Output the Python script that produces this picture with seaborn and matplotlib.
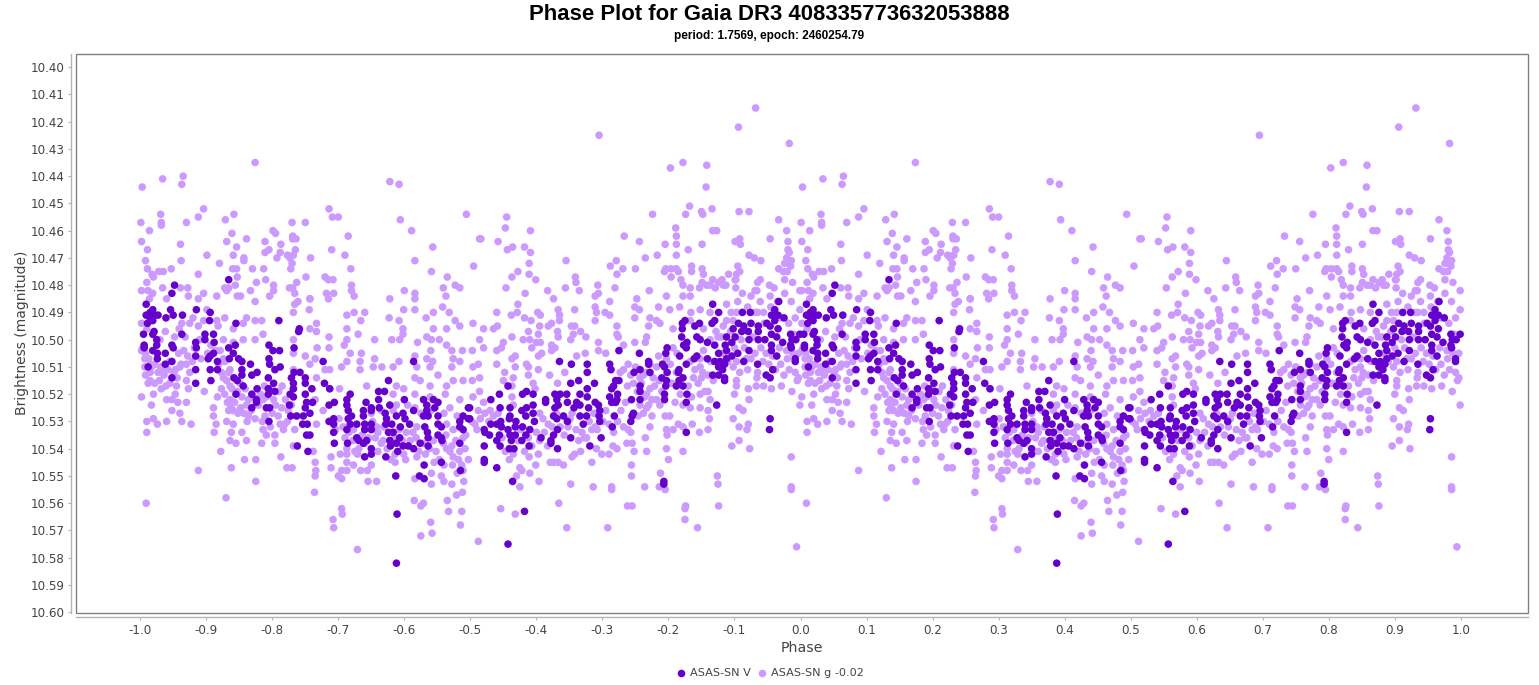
import pandas as pd
import matplotlib
matplotlib.use("Agg")
import matplotlib.pyplot as plt
import seaborn as sns

# === Data: (phase, magnitude), phase -1..0 ===
# the plot shows every observation twice, the second time at phase + 1
g_top_left = [
    (-0.997,10.444),(-0.966,10.441),(-0.935,10.440),(-0.937,10.443),(-0.826,10.435),(-0.622,10.442),(-0.608,10.443),
    (-0.999,10.457),(-0.969,10.454),(-0.968,10.457),(-0.968,10.458),(-0.986,10.460),(-0.998,10.464),(-0.939,10.465),
    (-0.989,10.467),(-0.992,10.471),(-0.938,10.471),(-0.953,10.474),(-0.989,10.474),(-0.972,10.475),(-0.965,10.475),
    (-0.982,10.476),(-0.980,10.477),(-0.990,10.479),(-0.912,10.476),(-0.966,10.481),(-0.939,10.481),(-0.928,10.481),
    (-0.998,10.482),(-0.988,10.482),(-0.981,10.483),(-0.904,10.483),(-0.927,10.484),(-0.960,10.485),(-0.986,10.485),
    (-0.912,10.485),(-0.884,10.484),(-0.930,10.457),(-0.912,10.455),(-0.904,10.452),(-0.899,10.469),(-0.880,10.472),
    (-0.871,10.456),(-0.858,10.454),(-0.861,10.461),(-0.869,10.464),(-0.854,10.466),(-0.839,10.463),(-0.859,10.469),
    (-0.843,10.470),(-0.843,10.471),(-0.860,10.474),(-0.854,10.474),(-0.830,10.474),(-0.853,10.477),(-0.824,10.479),
    (-0.856,10.480),(-0.872,10.481),(-0.866,10.481),(-0.869,10.482),(-0.833,10.482),(-0.853,10.484),(-0.848,10.484),
    (-0.826,10.486),(-0.811,10.464),(-0.799,10.460),(-0.795,10.461),(-0.787,10.465),(-0.805,10.467),(-0.811,10.468),
    (-0.788,10.468),(-0.793,10.470),(-0.813,10.474),(-0.810,10.478),(-0.798,10.480),(-0.798,10.482),(-0.804,10.484),
    (-0.770,10.457),(-0.750,10.457),(-0.769,10.462),(-0.769,10.463),(-0.764,10.463),(-0.765,10.467),(-0.777,10.469),
    (-0.768,10.469),(-0.773,10.470),(-0.742,10.470),(-0.770,10.472),(-0.772,10.474),(-0.749,10.477),(-0.763,10.479),
    (-0.774,10.481),(-0.769,10.481),(-0.766,10.483),(-0.743,10.485),(-0.761,10.486),(-0.714,10.452),(-0.709,10.455),
    (-0.700,10.455),(-0.685,10.462),(-0.710,10.467),(-0.690,10.469),(-0.681,10.474),(-0.720,10.477),(-0.715,10.478),
    (-0.708,10.478),(-0.680,10.480),(-0.680,10.482),(-0.718,10.483),(-0.707,10.483),(-0.676,10.484),(-0.715,10.485),
    (-0.606,10.456),(-0.589,10.460),(-0.557,10.466),(-0.584,10.471),(-0.559,10.475),(-0.535,10.477),(-0.495,10.473),
    (-0.506,10.454),(-0.486,10.463),(-0.523,10.480),(-0.516,10.481),(-0.541,10.481),(-0.537,10.484),(-0.600,10.482),
    (-0.584,10.483),(-0.622,10.485),(-0.584,10.485),
]
g_low_left = [
    (-0.998,10.521),(-0.983,10.524),(-0.990,10.530),(-0.990,10.534),(-0.980,10.529),(-0.974,10.531),(-0.960,10.530),
    (-0.952,10.526),(-0.940,10.527),(-0.937,10.530),(-0.923,10.531),(-0.912,10.548),(-0.991,10.560),(-0.870,10.558),
    (-0.825,10.552),(-0.862,10.547),(-0.842,10.544),(-0.825,10.544),(-0.878,10.541),(-0.888,10.534),(-0.885,10.531),
    (-0.889,10.528),(-0.889,10.525),(-0.883,10.521),(-0.903,10.519),(-0.930,10.523),(-0.943,10.523),(-0.952,10.522),
    (-0.960,10.522),(-0.968,10.518),(-0.980,10.520),(-0.988,10.516),(-0.968,10.511),(-0.985,10.512),(-0.993,10.510),
    (-0.998,10.504),(-0.993,10.507),(-0.985,10.509),(-0.947,10.511),(-0.940,10.510),(-0.930,10.509),(-0.925,10.512),
    (-0.930,10.515),(-0.927,10.518),(-0.947,10.520),(-0.937,10.494),(-0.925,10.494),(-0.912,10.495),(-0.932,10.499),
    (-0.910,10.500),(-0.899,10.489),(-0.920,10.492),(-0.904,10.493),(-0.884,10.493),(-0.872,10.492),(-0.882,10.495),
    (-0.859,10.496),(-0.844,10.494),(-0.839,10.492),(-0.826,10.493),(-0.816,10.493),(-0.814,10.498),(-0.826,10.500),
    (-0.844,10.500),(-0.874,10.500),(-0.859,10.501),(-0.879,10.504),(-0.874,10.507),(-0.864,10.511),(-0.874,10.514),
    (-0.864,10.517),(-0.877,10.518),(-0.864,10.522),(-0.866,10.526),(-0.859,10.526),(-0.869,10.530),(-0.859,10.531),
    (-0.862,10.534),(-0.846,10.534),(-0.839,10.537),(-0.864,10.537),(-0.855,10.538),(-0.816,10.538),(-0.796,10.538),
    (-0.809,10.535),(-0.814,10.533),(-0.796,10.535),(-0.783,10.533),(-0.781,10.531),(-0.791,10.528),(-0.811,10.528),
    (-0.826,10.529),(-0.836,10.528),(-0.839,10.524),(-0.814,10.522),(-0.798,10.522),(-0.786,10.525),(-0.768,10.518),
    (-0.768,10.511),(-0.768,10.505),(-0.768,10.500),(-0.768,10.490),(-0.766,10.487),(-0.743,10.485),(-0.744,10.489),
    (-0.733,10.494),(-0.743,10.496),(-0.733,10.497),(-0.714,10.499),(-0.732,10.503),(-0.714,10.503),(-0.750,10.506),
    (-0.735,10.507),(-0.743,10.509),(-0.713,10.511),(-0.720,10.511),(-0.733,10.514),(-0.713,10.518),(-0.735,10.522),
    (-0.723,10.526),(-0.733,10.531),(-0.766,10.533),(-0.768,10.539),(-0.738,10.541),(-0.787,10.543),(-0.778,10.547),
    (-0.770,10.547),(-0.735,10.545),(-0.734,10.548),(-0.735,10.550),(-0.736,10.556),(-0.711,10.543),(-0.711,10.547),
    (-0.700,10.550),(-0.695,10.551),(-0.697,10.542),(-0.687,10.545),(-0.695,10.548),(-0.687,10.548),(-0.687,10.542),
    (-0.677,10.546),(-0.671,10.542),(-0.666,10.548),(-0.656,10.548),(-0.650,10.546),(-0.655,10.552),(-0.642,10.552),
    (-0.614,10.542),(-0.614,10.545),(-0.584,10.551),(-0.559,10.549),(-0.559,10.553),(-0.544,10.550),(-0.540,10.552),
    (-0.528,10.553),(-0.510,10.552),(-0.511,10.548),(-0.695,10.562),(-0.694,10.564),(-0.708,10.566),(-0.707,10.569),
    (-0.671,10.577),(-0.585,10.559),(-0.571,10.560),(-0.575,10.561),(-0.535,10.559),(-0.521,10.557),(-0.512,10.556),
    (-0.533,10.563),(-0.513,10.563),(-0.560,10.567),(-0.558,10.571),(-0.575,10.572),(-0.515,10.568),
    (-0.687,10.491),(-0.676,10.490),(-0.660,10.490),(-0.666,10.493),(-0.687,10.496),(-0.670,10.498),(-0.687,10.500),
    (-0.691,10.502),(-0.645,10.500),(-0.682,10.505),(-0.665,10.505),(-0.645,10.507),(-0.687,10.508),(-0.667,10.508),
    (-0.634,10.510),(-0.647,10.510),(-0.695,10.510),(-0.667,10.511),(-0.617,10.510),(-0.608,10.508),(-0.619,10.500),
    (-0.607,10.500),(-0.608,10.493),(-0.602,10.496),(-0.602,10.498),(-0.623,10.492),(-0.601,10.489),(-0.584,10.489),
    (-0.567,10.492),(-0.556,10.490),(-0.532,10.490),(-0.542,10.488),(-0.556,10.496),(-0.536,10.496),(-0.523,10.493),
    (-0.516,10.495),(-0.580,10.501),(-0.566,10.499),(-0.559,10.500),(-0.547,10.500),(-0.536,10.502),(-0.560,10.504),
    (-0.528,10.504),(-0.512,10.504),(-0.584,10.506),(-0.566,10.507),(-0.557,10.508),(-0.581,10.510),(-0.561,10.510),
    (-0.526,10.507),(-0.516,10.508),(-0.528,10.510),(-0.549,10.513),(-0.584,10.514),(-0.576,10.515),(-0.561,10.517),
    (-0.536,10.517),(-0.526,10.515),(-0.511,10.515),(-0.612,10.517),(-0.601,10.518),(-0.657,10.517),(-0.698,10.518),
    (-0.584,10.520),(-0.561,10.521),(-0.538,10.520),(-0.516,10.522),(-0.531,10.525),(-0.584,10.525),(-0.617,10.520),
    (-0.617,10.526),(-0.642,10.532),(-0.581,10.532),(-0.526,10.533),(-0.536,10.531),(-0.511,10.536),(-0.528,10.539),
    (-0.516,10.541),(-0.526,10.543),(-0.536,10.540),(-0.508,10.540),(-0.581,10.543),(-0.601,10.542),(-0.632,10.537),
    (-0.617,10.534),(-0.640,10.534),(-0.677,10.533),(-0.687,10.540),
]
g_top_right = [
    (-0.305,10.425),(-0.068,10.415),(-0.094,10.422),(-0.017,10.428),(-0.197,10.437),(-0.178,10.435),(-0.142,10.436),
    (-0.143,10.444),(-0.168,10.451),(-0.150,10.453),(-0.148,10.454),(-0.134,10.452),(-0.093,10.453),(-0.078,10.453),
    (-0.224,10.454),(-0.174,10.454),(-0.033,10.456),(-0.189,10.459),(-0.188,10.462),(-0.133,10.460),(-0.127,10.460),
    (-0.021,10.460),(-0.445,10.455),(-0.447,10.459),(-0.409,10.460),(-0.484,10.463),(-0.458,10.464),(-0.436,10.466),
    (-0.444,10.467),(-0.418,10.466),(-0.409,10.468),(-0.411,10.472),(-0.428,10.475),(-0.437,10.477),(-0.411,10.476),
    (-0.401,10.478),(-0.446,10.481),(-0.355,10.471),(-0.341,10.477),(-0.340,10.479),(-0.356,10.481),(-0.383,10.482),
    (-0.335,10.482),(-0.307,10.480),(-0.281,10.481),(-0.267,10.462),(-0.244,10.464),(-0.205,10.465),(-0.188,10.465),
    (-0.149,10.465),(-0.099,10.464),(-0.092,10.463),(-0.091,10.465),(-0.046,10.463),(-0.019,10.464),(-0.235,10.470),
    (-0.217,10.469),(-0.170,10.467),(-0.188,10.469),(-0.279,10.471),(-0.288,10.473),(-0.269,10.474),(-0.278,10.476),
    (-0.250,10.474),(-0.204,10.474),(-0.196,10.474),(-0.188,10.474),(-0.206,10.475),(-0.185,10.475),(-0.165,10.473),
    (-0.165,10.475),(-0.149,10.474),(-0.147,10.476),(-0.196,10.477),(-0.181,10.478),(-0.178,10.480),(-0.133,10.478),
    (-0.149,10.479),(-0.142,10.480),(-0.167,10.481),(-0.153,10.481),(-0.229,10.482),(-0.078,10.469),(-0.070,10.470),
    (-0.060,10.471),(-0.095,10.473),(-0.092,10.475),(-0.097,10.476),(-0.109,10.476),(-0.098,10.478),(-0.119,10.478),
    (-0.124,10.479),(-0.113,10.480),(-0.129,10.481),(-0.098,10.481),(-0.061,10.478),(-0.065,10.479),(-0.047,10.480),
    (-0.040,10.481),(-0.069,10.482),(-0.024,10.478),(-0.012,10.479),(-0.019,10.467),(-0.017,10.468),(-0.021,10.470),
    (-0.024,10.472),(-0.014,10.471),(-0.033,10.474),(-0.026,10.475),(-0.020,10.475),(-0.015,10.473),
]
g_low_right = [
    (-0.417,10.483),(-0.311,10.484),(-0.306,10.483),(-0.374,10.485),(-0.289,10.486),(-0.248,10.485),(-0.203,10.484),
    (-0.215,10.488),(-0.198,10.489),(-0.251,10.488),(-0.244,10.489),(-0.183,10.488),(-0.167,10.484),(-0.178,10.484),
    (-0.152,10.489),(-0.166,10.490),(-0.428,10.487),(-0.460,10.490),(-0.438,10.491),(-0.429,10.490),(-0.398,10.490),
    (-0.394,10.491),(-0.418,10.492),(-0.408,10.493),(-0.367,10.489),(-0.365,10.491),(-0.365,10.493),(-0.342,10.489),
    (-0.311,10.488),(-0.309,10.490),(-0.296,10.490),(-0.289,10.491),(-0.311,10.493),(-0.251,10.492),(-0.228,10.492),
    (-0.218,10.493),(-0.213,10.494),(-0.230,10.495),(-0.278,10.495),(-0.496,10.494),(-0.480,10.496),(-0.465,10.496),
    (-0.459,10.495),(-0.395,10.495),(-0.377,10.494),(-0.382,10.495),(-0.412,10.497),(-0.397,10.498),(-0.368,10.497),
    (-0.347,10.495),(-0.342,10.495),(-0.333,10.497),(-0.344,10.498),(-0.367,10.499),(-0.348,10.500),(-0.325,10.499),
    (-0.278,10.498),(-0.276,10.499),(-0.306,10.501),(-0.268,10.502),(-0.251,10.501),(-0.235,10.501),(-0.233,10.499),
    (-0.193,10.496),(-0.486,10.500),(-0.480,10.503),(-0.450,10.501),(-0.437,10.499),(-0.453,10.503),(-0.460,10.504),
    (-0.497,10.504),(-0.420,10.500),(-0.410,10.500),(-0.400,10.501),(-0.394,10.501),(-0.407,10.503),(-0.377,10.502),
    (-0.377,10.504),(-0.372,10.503),(-0.326,10.505),(-0.339,10.506),(-0.306,10.504),(-0.295,10.505),(-0.392,10.505),
    (-0.397,10.506),(-0.432,10.506),(-0.437,10.507),(-0.460,10.509),(-0.488,10.509),(-0.496,10.510),(-0.415,10.509),
    (-0.412,10.510),(-0.432,10.510),(-0.448,10.512),(-0.397,10.511),(-0.380,10.513),(-0.357,10.512),(-0.435,10.514),
    (-0.486,10.514),(-0.497,10.515),(-0.450,10.515),(-0.412,10.513),(-0.405,10.516),(-0.402,10.518),(-0.368,10.516),
    (-0.437,10.517),(-0.486,10.519),(-0.496,10.521),(-0.437,10.521),(-0.480,10.523),(-0.488,10.526),(-0.493,10.531),
    (-0.470,10.526),(-0.435,10.524),(-0.395,10.527),(-0.390,10.529),(-0.382,10.531),(-0.349,10.529),(-0.331,10.534),
    (-0.311,10.532),(-0.316,10.533),(-0.324,10.536),(-0.268,10.532),(-0.261,10.533),(-0.257,10.534),(-0.263,10.538),
    (-0.255,10.538),(-0.284,10.539),(-0.278,10.540),(-0.290,10.542),(-0.301,10.542),(-0.309,10.540),(-0.333,10.541),
    (-0.342,10.542),(-0.346,10.543),(-0.316,10.545),(-0.379,10.545),(-0.374,10.545),(-0.367,10.545),(-0.359,10.546),
    (-0.401,10.546),(-0.397,10.542),(-0.411,10.543),(-0.425,10.547),(-0.422,10.548),(-0.410,10.549),(-0.430,10.550),
    (-0.396,10.552),(-0.425,10.554),(-0.348,10.553),(-0.314,10.554),(-0.286,10.554),(-0.286,10.555),(-0.454,10.562),
    (-0.432,10.564),(-0.366,10.560),(-0.354,10.569),(-0.292,10.569),(-0.488,10.574),(-0.262,10.561),(-0.255,10.561),
    (-0.256,10.546),(-0.256,10.550),(-0.252,10.541),(-0.235,10.536),(-0.233,10.541),(-0.236,10.554),(-0.228,10.532),
    (-0.212,10.549),(-0.214,10.554),(-0.205,10.555),(-0.203,10.540),(-0.200,10.544),(-0.203,10.533),(-0.202,10.535),
    (-0.193,10.533),(-0.178,10.541),(-0.174,10.561),(-0.175,10.562),(-0.175,10.566),(-0.156,10.569),(-0.185,10.531),
    (-0.178,10.532),(-0.164,10.531),(-0.153,10.534),(-0.140,10.533),(-0.138,10.529),(-0.126,10.550),(-0.125,10.553),
    (-0.124,10.561),(-0.104,10.539),(-0.093,10.537),(-0.077,10.540),(-0.093,10.532),(-0.079,10.531),(-0.081,10.533),
    (-0.102,10.529),(-0.093,10.525),(-0.087,10.526),(-0.014,10.543),(-0.014,10.554),(-0.014,10.555),(-0.006,10.576),
    (-0.268,10.511),(-0.273,10.512),(-0.261,10.509),(-0.253,10.516),(-0.243,10.514),(-0.233,10.512),(-0.223,10.514),
    (-0.241,10.516),(-0.228,10.518),(-0.233,10.520),(-0.225,10.522),(-0.243,10.524),(-0.233,10.525),(-0.238,10.527),
    (-0.225,10.528),(-0.246,10.528),(-0.213,10.524),(-0.205,10.528),(-0.198,10.528),(-0.190,10.523),(-0.167,10.525),
    (-0.152,10.525),(-0.140,10.526),(-0.152,10.520),(-0.140,10.519),(-0.137,10.522),(-0.162,10.514),(-0.150,10.514),
    (-0.152,10.510),(-0.132,10.515),(-0.097,10.515),(-0.097,10.517),(-0.100,10.520),(-0.079,10.518),(-0.067,10.517),
    (-0.056,10.517),(-0.044,10.518),(-0.029,10.517),(-0.013,10.519),(-0.066,10.514),(-0.102,10.510),(-0.082,10.507),
    (-0.021,10.504),(-0.003,10.505),(-0.003,10.514),(-0.001,10.524),(-0.078,10.522),(-0.137,10.480),(-0.117,10.480),
    (-0.099,10.478),(-0.112,10.487),(-0.097,10.490),(-0.102,10.493),(-0.117,10.495),(-0.069,10.490),(-0.061,10.486),
    (-0.046,10.484),(-0.024,10.483),(-0.001,10.482),(-0.014,10.486),(-0.001,10.489),(-0.056,10.490),(-0.066,10.482),
    (-0.137,10.490),(-0.147,10.496),(-0.167,10.493),(-0.125,10.499),(-0.137,10.500),(-0.147,10.504),(-0.152,10.507),
    (-0.167,10.508),(-0.187,10.505),(-0.193,10.503),(-0.203,10.507),(-0.215,10.506),(-0.218,10.510),
]
# the thick part of the g band, where the dots overlap
g_band = [
    (-0.996,10.503),(-0.992,10.505),(-0.987,10.507),(-0.983,10.510),(-0.978,10.509),(-0.973,10.512),(-0.969,10.510),
    (-0.964,10.513),(-0.958,10.511),(-0.955,10.508),(-0.949,10.512),(-0.944,10.514),(-0.938,10.509),(-0.992,10.513),
    (-0.985,10.515),(-0.978,10.516),(-0.971,10.515),(-0.961,10.517),(-0.955,10.516),(-0.945,10.517),(-0.942,10.505),
    (-0.934,10.504),(-0.928,10.506),(-0.921,10.508),(-0.918,10.503),(-0.908,10.507),(-0.970,10.500),(-0.962,10.497),
    (-0.948,10.499),(-0.941,10.496),(-0.990,10.496),(-0.998,10.494),
    (-0.898,10.505),(-0.893,10.502),(-0.886,10.504),(-0.881,10.509),(-0.877,10.512),(-0.872,10.508),(-0.869,10.515),
    (-0.866,10.512),(-0.861,10.518),(-0.858,10.514),(-0.853,10.519),(-0.849,10.516),(-0.846,10.521),(-0.841,10.518),
    (-0.836,10.522),(-0.872,10.520),(-0.868,10.523),(-0.863,10.525),(-0.857,10.523),(-0.852,10.527),(-0.848,10.525),
    (-0.843,10.527),(-0.838,10.530),(-0.832,10.526),(-0.829,10.521),(-0.821,10.524),(-0.818,10.520),(-0.812,10.517),
    (-0.809,10.521),(-0.803,10.518),(-0.800,10.527),(-0.795,10.524),(-0.790,10.519),(-0.785,10.517),(-0.780,10.522),
    (-0.776,10.526),(-0.771,10.524),(-0.777,10.530),(-0.788,10.531),(-0.803,10.532),(-0.815,10.530),
    (-0.704,10.533),(-0.699,10.529),(-0.693,10.532),(-0.690,10.536),(-0.684,10.534),(-0.678,10.537),(-0.675,10.541),
    (-0.669,10.540),(-0.664,10.535),(-0.660,10.538),(-0.654,10.536),(-0.648,10.530),(-0.644,10.536),(-0.640,10.541),
    (-0.635,10.538),(-0.631,10.532),(-0.626,10.540),(-0.620,10.544),(-0.615,10.536),(-0.608,10.533),(-0.603,10.537),
    (-0.597,10.534),(-0.591,10.537),(-0.587,10.534),(-0.582,10.536),(-0.578,10.541),(-0.572,10.538),(-0.568,10.542),
    (-0.562,10.540),(-0.556,10.537),(-0.552,10.541),(-0.547,10.544),(-0.541,10.538),(-0.537,10.535),(-0.531,10.541),
    (-0.527,10.546),(-0.522,10.537),(-0.518,10.544),(-0.513,10.546),(-0.507,10.535),(-0.503,10.544),(-0.520,10.549),
    (-0.540,10.546),(-0.555,10.545),(-0.598,10.544),(-0.650,10.527),(-0.635,10.526),(-0.612,10.524),(-0.595,10.524),
    (-0.575,10.527),(-0.560,10.526),(-0.540,10.527),(-0.520,10.528),
    (-0.498,10.530),(-0.490,10.533),(-0.485,10.529),(-0.478,10.527),(-0.472,10.530),(-0.465,10.528),(-0.458,10.527),
    (-0.452,10.536),(-0.447,10.541),(-0.441,10.544),(-0.435,10.542),(-0.428,10.537),(-0.424,10.533),(-0.418,10.541),
    (-0.412,10.536),(-0.407,10.539),(-0.400,10.534),(-0.395,10.537),(-0.388,10.534),(-0.383,10.539),(-0.376,10.532),
    (-0.370,10.527),(-0.364,10.532),(-0.358,10.535),(-0.352,10.532),(-0.346,10.527),(-0.340,10.533),(-0.336,10.537),
    (-0.327,10.536),(-0.320,10.530),(-0.313,10.527),(-0.308,10.533),(-0.299,10.530),(-0.295,10.526),(-0.290,10.531),
    (-0.283,10.534),(-0.277,10.530),(-0.272,10.526),(-0.265,10.523),
    (-0.262,10.517),(-0.257,10.513),(-0.250,10.510),(-0.247,10.519),(-0.238,10.513),(-0.236,10.521),(-0.230,10.524),
    (-0.228,10.509),(-0.221,10.517),(-0.218,10.522),(-0.214,10.515),(-0.210,10.519),(-0.195,10.516),(-0.197,10.509),
    (-0.188,10.512),(-0.182,10.520),(-0.178,10.524),(-0.170,10.517),(-0.165,10.521),(-0.160,10.511),(-0.155,10.516),
    (-0.148,10.512),(-0.145,10.519),(-0.140,10.513),(-0.136,10.508),
    (-0.128,10.497),(-0.120,10.499),(-0.117,10.505),(-0.110,10.508),(-0.106,10.497),(-0.100,10.503),(-0.097,10.508),
    (-0.092,10.512),(-0.090,10.500),(-0.085,10.503),(-0.080,10.511),(-0.075,10.507),(-0.072,10.499),(-0.069,10.505),
    (-0.065,10.512),(-0.060,10.503),(-0.057,10.508),(-0.052,10.505),(-0.048,10.509),(-0.042,10.506),(-0.038,10.511),
    (-0.032,10.503),(-0.030,10.509),(-0.025,10.513),(-0.020,10.507),(-0.017,10.511),(-0.012,10.505),(-0.008,10.512),
    (-0.005,10.515),(-0.010,10.498),(-0.018,10.494),(-0.030,10.492),(-0.045,10.488),(-0.055,10.494),(-0.065,10.490),
    (-0.080,10.488),(-0.095,10.486),(-0.105,10.490),(-0.112,10.493),(-0.088,10.483),(-0.075,10.484),(-0.035,10.486),
    (-0.008,10.492),
]
v_left = [
    (-0.948,10.480),(-0.952,10.483),(-0.991,10.487),(-0.981,10.489),(-0.985,10.490),(-0.991,10.491),(-0.978,10.491),
    (-0.973,10.491),(-0.985,10.492),(-0.989,10.494),(-0.981,10.493),(-0.954,10.489),(-0.950,10.491),(-0.961,10.492),
    (-0.936,10.491),(-0.915,10.489),(-0.894,10.490),(-0.895,10.493),(-0.855,10.494),(-0.790,10.493),(-0.759,10.496),
    (-0.760,10.497),(-0.866,10.478),(-0.995,10.498),(-0.979,10.497),(-0.981,10.498),(-0.975,10.500),(-0.937,10.498),
    (-0.902,10.498),(-0.889,10.498),(-0.902,10.500),(-0.888,10.501),(-0.916,10.501),(-0.994,10.502),(-0.994,10.503),
    (-0.975,10.502),(-0.952,10.502),(-0.950,10.503),(-0.981,10.504),(-0.974,10.505),(-0.962,10.505),(-0.974,10.507),
    (-0.952,10.508),(-0.962,10.509),(-0.988,10.510),(-0.915,10.503),(-0.916,10.506),(-0.889,10.505),(-0.894,10.506),
    (-0.897,10.507),(-0.883,10.508),(-0.883,10.511),(-0.894,10.511),(-0.916,10.511),(-0.952,10.514),(-0.893,10.515),
    (-0.916,10.516),(-0.866,10.503),(-0.856,10.502),(-0.859,10.505),(-0.865,10.507),(-0.851,10.507),(-0.846,10.508),
    (-0.846,10.511),(-0.846,10.513),(-0.858,10.514),(-0.853,10.515),(-0.844,10.517),(-0.855,10.520),(-0.833,10.509),
    (-0.823,10.512),(-0.831,10.513),(-0.805,10.502),(-0.799,10.504),(-0.789,10.504),(-0.767,10.503),(-0.805,10.507),
    (-0.804,10.509),(-0.788,10.510),(-0.796,10.511),(-0.806,10.514),(-0.798,10.516),(-0.806,10.518),(-0.823,10.518),
    (-0.796,10.519),(-0.806,10.520),(-0.831,10.520),(-0.824,10.522),(-0.824,10.523),(-0.831,10.525),(-0.809,10.525),
    (-0.804,10.525),(-0.805,10.530),(-0.767,10.512),(-0.758,10.512),(-0.771,10.514),(-0.750,10.514),(-0.768,10.516),
    (-0.768,10.518),(-0.773,10.520),(-0.768,10.521),(-0.750,10.516),(-0.750,10.520),(-0.740,10.518),(-0.723,10.508),
    (-0.721,10.516),(-0.713,10.518),(-0.774,10.524),(-0.748,10.523),(-0.739,10.523),(-0.750,10.525),(-0.743,10.527),
    (-0.772,10.528),(-0.763,10.528),(-0.753,10.528),(-0.754,10.531),(-0.747,10.531),(-0.748,10.535),(-0.743,10.535),
    (-0.762,10.539),(-0.746,10.541),(-0.714,10.524),(-0.706,10.523),(-0.714,10.530),(-0.707,10.529),(-0.707,10.531),
    (-0.707,10.534),(-0.706,10.538),(-0.686,10.538),(-0.682,10.520),(-0.687,10.522),(-0.687,10.524),(-0.685,10.526),
    (-0.685,10.529),(-0.680,10.528),(-0.687,10.533),(-0.682,10.531),(-0.672,10.531),(-0.662,10.526),(-0.662,10.528),
    (-0.658,10.523),(-0.660,10.531),(-0.660,10.533),(-0.650,10.525),(-0.650,10.526),(-0.650,10.531),(-0.650,10.533),
    (-0.639,10.519),(-0.630,10.519),(-0.639,10.522),(-0.638,10.525),(-0.624,10.515),(-0.672,10.536),(-0.669,10.537),
    (-0.662,10.538),(-0.657,10.537),(-0.650,10.540),(-0.650,10.542),(-0.660,10.543),(-0.628,10.543),(-0.622,10.524),
    (-0.629,10.527),(-0.627,10.529),(-0.628,10.531),(-0.619,10.531),(-0.624,10.534),(-0.617,10.534),(-0.607,10.536),
    (-0.622,10.537),(-0.621,10.539),(-0.612,10.538),(-0.610,10.541),(-0.602,10.539),(-0.594,10.539),(-0.586,10.540),
    (-0.576,10.538),(-0.564,10.539),(-0.612,10.528),(-0.602,10.527),(-0.606,10.532),(-0.599,10.529),(-0.592,10.531),
    (-0.600,10.522),(-0.586,10.526),(-0.571,10.522),(-0.566,10.524),(-0.566,10.526),(-0.571,10.528),(-0.564,10.528),
    (-0.569,10.532),(-0.565,10.534),(-0.564,10.536),(-0.556,10.522),(-0.549,10.523),(-0.554,10.525),(-0.549,10.528),
    (-0.549,10.531),(-0.544,10.532),(-0.549,10.535),(-0.544,10.536),(-0.543,10.537),(-0.516,10.538),(-0.544,10.545),
    (-0.515,10.548),(-0.570,10.546),(-0.577,10.550),(-0.570,10.551),(-0.613,10.550),(-0.611,10.564),(-0.612,10.582),
    (-0.586,10.508),(-0.503,10.525),(-0.511,10.528),(-0.516,10.530),(-0.516,10.532),(-0.511,10.533),(-0.503,10.529),
]
v_right = [
    (-0.501,10.525),(-0.501,10.529),(-0.479,10.533),(-0.478,10.534),(-0.471,10.535),(-0.469,10.531),(-0.460,10.531),
    (-0.454,10.530),(-0.453,10.532),(-0.469,10.522),(-0.455,10.525),(-0.456,10.520),(-0.443,10.517),(-0.440,10.525),
    (-0.440,10.528),(-0.441,10.529),(-0.431,10.530),(-0.443,10.533),(-0.432,10.532),(-0.440,10.535),(-0.432,10.535),
    (-0.456,10.535),(-0.460,10.537),(-0.455,10.539),(-0.479,10.539),(-0.438,10.537),(-0.441,10.540),(-0.434,10.540),
    (-0.479,10.544),(-0.479,10.545),(-0.460,10.547),(-0.436,10.552),(-0.418,10.563),(-0.443,10.575),(-0.421,10.520),
    (-0.415,10.519),(-0.405,10.520),(-0.422,10.526),(-0.415,10.525),(-0.405,10.524),(-0.405,10.527),(-0.416,10.528),
    (-0.403,10.530),(-0.421,10.532),(-0.410,10.533),(-0.416,10.535),(-0.422,10.537),(-0.411,10.539),(-0.393,10.536),
    (-0.386,10.522),(-0.386,10.523),(-0.372,10.520),(-0.364,10.520),(-0.354,10.520),(-0.369,10.522),(-0.353,10.523),
    (-0.367,10.524),(-0.372,10.525),(-0.374,10.528),(-0.369,10.529),(-0.359,10.528),(-0.353,10.530),(-0.368,10.533),
    (-0.374,10.535),(-0.378,10.537),(-0.378,10.538),(-0.368,10.540),(-0.348,10.536),(-0.365,10.508),(-0.347,10.509),
    (-0.323,10.509),(-0.323,10.512),(-0.336,10.515),(-0.348,10.516),(-0.312,10.516),(-0.323,10.518),(-0.334,10.520),
    (-0.323,10.521),(-0.339,10.523),(-0.343,10.525),(-0.334,10.524),(-0.321,10.525),(-0.311,10.523),(-0.306,10.524),
    (-0.304,10.526),(-0.334,10.528),(-0.324,10.528),(-0.305,10.528),(-0.304,10.530),(-0.329,10.531),(-0.302,10.536),
    (-0.319,10.539),(-0.282,10.528),(-0.285,10.532),(-0.275,10.504),(-0.244,10.505),(-0.289,10.509),(-0.287,10.511),
    (-0.280,10.515),(-0.275,10.515),(-0.283,10.517),(-0.286,10.518),(-0.277,10.520),(-0.289,10.521),(-0.278,10.522),
    (-0.286,10.523),(-0.280,10.523),(-0.252,10.512),(-0.243,10.511),(-0.256,10.522),(-0.243,10.517),(-0.243,10.519),
    (-0.243,10.522),(-0.253,10.527),(-0.255,10.528),(-0.257,10.530),(-0.230,10.508),(-0.230,10.509),(-0.228,10.512),
    (-0.202,10.503),(-0.204,10.505),(-0.209,10.509),(-0.206,10.510),(-0.202,10.512),(-0.210,10.514),(-0.203,10.515),
    (-0.204,10.517),(-0.206,10.520),(-0.206,10.522),(-0.207,10.552),(-0.207,10.553),(-0.183,10.506),(-0.173,10.509),
    (-0.184,10.511),(-0.185,10.512),(-0.178,10.514),(-0.184,10.515),(-0.188,10.517),(-0.178,10.517),(-0.172,10.520),
    (-0.173,10.523),(-0.173,10.534),(-0.127,10.524),(-0.175,10.493),(-0.179,10.494),(-0.179,10.496),(-0.180,10.499),
    (-0.172,10.501),(-0.177,10.502),(-0.173,10.503),(-0.160,10.495),(-0.153,10.494),(-0.157,10.499),(-0.152,10.500),
    (-0.141,10.501),(-0.130,10.502),(-0.157,10.506),(-0.161,10.507),(-0.141,10.507),(-0.133,10.487),(-0.124,10.490),
    (-0.130,10.493),(-0.134,10.494),(-0.088,10.490),(-0.076,10.490),(-0.033,10.486),(-0.094,10.494),(-0.086,10.495),
    (-0.075,10.494),(-0.102,10.496),(-0.089,10.497),(-0.079,10.497),(-0.112,10.499),(-0.099,10.499),(-0.104,10.501),
    (-0.114,10.502),(-0.112,10.504),(-0.124,10.505),(-0.095,10.505),(-0.104,10.506),(-0.112,10.507),(-0.130,10.508),
    (-0.122,10.508),(-0.115,10.509),(-0.124,10.510),(-0.118,10.511),(-0.133,10.513),(-0.124,10.513),(-0.115,10.514),
    (-0.115,10.515),(-0.078,10.500),(-0.078,10.504),(-0.086,10.508),(-0.065,10.509),(-0.046,10.529),(-0.047,10.533),
    (-0.064,10.495),(-0.064,10.497),(-0.064,10.500),(-0.051,10.494),(-0.046,10.495),(-0.054,10.500),(-0.044,10.498),
    (-0.039,10.489),(-0.044,10.491),(-0.034,10.491),(-0.025,10.492),(-0.039,10.493),(-0.034,10.496),(-0.036,10.499),
    (-0.027,10.501),(-0.044,10.502),(-0.044,10.504),(-0.036,10.506),(-0.015,10.498),(-0.013,10.500),(-0.007,10.500),
    (-0.015,10.502),(-0.014,10.503),(-0.008,10.507),(-0.008,10.508),(-0.001,10.498),(-0.042,10.511),(-0.052,10.513),
    (-0.046,10.514),
]

x_ticks = [-1.0, -0.9, -0.8, -0.7, -0.6, -0.5, -0.4, -0.3, -0.2, -0.1, 0.0, 0.1, 0.2, 0.3, 0.4, 0.5, 0.6, 0.7, 0.8, 0.9, 1.0]
y_ticks = [10.40, 10.41, 10.42, 10.43, 10.44, 10.45, 10.46, 10.47, 10.48, 10.49, 10.50,
           10.51, 10.52, 10.53, 10.54, 10.55, 10.56, 10.57, 10.58, 10.59, 10.60]

V_NAME = "ASAS-SN V"
G_NAME = "ASAS-SN g -0.02"
TEXT_COLOR = "#444444"
AXIS_COLOR = "#b4b4b4"


def folded(points, name):
    # each observation at its phase and again one cycle later
    df = pd.DataFrame(points, columns=["phase", "mag"])
    df2 = df.copy()
    df2["phase"] = df2["phase"] + 1
    out = pd.concat([df, df2], ignore_index=True)
    out["band"] = name
    return out


# g goes first so that V is drawn on top
df = pd.concat([
    folded(g_top_left + g_low_left + g_top_right + g_low_right + g_band, G_NAME),
    folded(v_left + v_right, V_NAME),
], ignore_index=True)

# === Style Configuration ===
sns.set_theme(style="white")
plt.rcParams["font.family"] = ["DejaVu Sans"]

W, H = 1539, 685
fig = plt.figure(figsize=(W / 100, H / 100), dpi=100)
ax = fig.add_axes([75.5 / W, 1 - 612.5 / H, 1452 / W, 559 / H])

sns.scatterplot(
    data=df, x="phase", y="mag", hue="band",
    hue_order=[V_NAME, G_NAME],
    palette={V_NAME: "#6600cc", G_NAME: "#cc99ff"},
    s=30, linewidth=0, ax=ax, clip_on=True,
)

ax.set_xlim(-1.098, 1.101)
ax.set_ylim(10.6001, 10.395)
ax.set_xticks(x_ticks)
ax.set_xticklabels([f"{t:.1f}" for t in x_ticks])
ax.set_yticks(y_ticks)
ax.set_yticklabels([f"{t:.2f}" for t in y_ticks])

# frame around the data plus detached axis lines, like the original
ax.patch.set_edgecolor("#808080")
ax.patch.set_linewidth(1.0)
ax.patch.set_facecolor("white")
ax.spines["top"].set_visible(False)
ax.spines["right"].set_visible(False)
for side in ["left", "bottom"]:
    ax.spines[side].set_position(("outward", 3))
    ax.spines[side].set_color(AXIS_COLOR)
    ax.spines[side].set_linewidth(1.0)
ax.tick_params(axis="both", length=2.5, width=0.8, color=AXIS_COLOR,
               labelcolor=TEXT_COLOR, labelsize=8.6, left=True, bottom=True, pad=2.5)

ax.set_xlabel("Phase", fontsize=10.2, color=TEXT_COLOR, labelpad=3)
ax.set_ylabel("Brightness (magnitude)", fontsize=10, color=TEXT_COLOR, labelpad=1)

# === Titles ===
fig.text(769 / W, 1 - 14 / H, "Phase Plot for Gaia DR3 408335773632053888", ha="center", va="center",
         fontsize=15.9, fontweight="bold", family="Liberation Sans", color="black")
fig.text(769 / W, 1 - 35.5 / H, "period: 1.7569, epoch: 2460254.79", ha="center", va="center",
         fontsize=8.5, fontweight="bold", family="Liberation Sans", color="black")

# === Legend ===
handles, labels = ax.get_legend_handles_labels()
ax.get_legend().remove()
fig.legend(handles, labels, loc="center", bbox_to_anchor=(770 / W, 1 - 673.5 / H), ncol=2, frameon=False,
           fontsize=8.1, labelcolor=TEXT_COLOR, handlelength=1.0, handletextpad=0.3, columnspacing=0.5,
           markerscale=1.0)

plt.savefig("out.png", dpi=100)
plt.close()
